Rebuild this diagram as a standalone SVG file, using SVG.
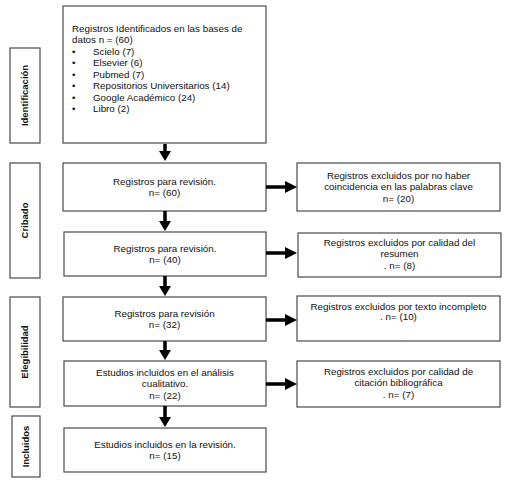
<svg xmlns="http://www.w3.org/2000/svg" width="527" height="481" viewBox="0 0 527 481">
<defs>
<style>
.box{fill:#fff;stroke:#4a4a4a;stroke-width:1.2}
.t{font-family:"Liberation Sans",Arial,sans-serif;font-size:9.8px;fill:#111}
.c{text-anchor:middle}
.lab{font-family:"Liberation Sans",Arial,sans-serif;font-size:9.5px;font-weight:bold;fill:#111;text-anchor:middle}
.sh{stroke:#000;stroke-width:3.5;fill:none}
.hd{fill:#000}
</style>
</defs>
<rect width="527" height="481" fill="#fff"/>
<g id="lab-identificacion"><rect class="box" x="10" y="48" width="30" height="95"/><text class="lab" transform="translate(28,95.5) rotate(-90)">Identificación</text></g>
<g id="lab-cribado"><rect class="box" x="10" y="163" width="30" height="115"/><text class="lab" transform="translate(28,220.5) rotate(-90)">Cribado</text></g>
<g id="lab-elegibilidad"><rect class="box" x="10" y="297" width="30" height="110"/><text class="lab" transform="translate(28,352) rotate(-90)">Elegibilidad</text></g>
<g id="lab-incluidos"><rect class="box" x="12" y="416" width="28" height="61"/><text class="lab" transform="translate(29,446.5) rotate(-90)">Incluidos</text></g>
<g id="n-identificados"><rect class="box" x="63" y="6" width="203" height="137"/>
<text class="t" x="72" y="31.5">Registros Identificados en las bases de</text>
<text class="t" x="72" y="43">datos n = (60)</text>
<text class="t" x="72" y="54.5">•</text><text class="t" x="93" y="54.5">Scielo (7)</text>
<text class="t" x="72" y="66">•</text><text class="t" x="93" y="66">Elsevier (6)</text>
<text class="t" x="72" y="77.5">•</text><text class="t" x="93" y="77.5">Pubmed (7)</text>
<text class="t" x="72" y="89">•</text><text class="t" x="93" y="89">Repositorios Universitarios (14)</text>
<text class="t" x="72" y="100.5">•</text><text class="t" x="93" y="100.5">Google Académico (24)</text>
<text class="t" x="72" y="112">•</text><text class="t" x="93" y="112">Libro (2)</text>
</g>
<g id="n-rev60"><rect class="box" x="63" y="163" width="203" height="48"/>
<text class="t c" x="164.5" y="185">Registros para revisión.</text><text class="t c" x="164.5" y="196">n= (60)</text></g>
<g id="n-rev40"><rect class="box" x="64" y="232" width="202" height="44"/>
<text class="t c" x="165" y="252">Registros para revisión.</text><text class="t c" x="165" y="263">n= (40)</text></g>
<g id="n-rev32"><rect class="box" x="63" y="297" width="203" height="44"/>
<text class="t c" x="164.5" y="317">Registros para revisión</text><text class="t c" x="164.5" y="328">n= (32)</text></g>
<g id="n-est22"><rect class="box" x="64" y="361" width="202" height="45"/>
<text class="t c" x="165" y="376">Estudios incluidos en el análisis</text><text class="t c" x="165" y="387">cualitativo.</text><text class="t c" x="165" y="399">n= (22)</text></g>
<g id="n-est15"><rect class="box" x="64" y="428" width="202" height="44"/>
<text class="t c" x="165" y="448">Estudios incluidos en la revisión.</text><text class="t c" x="165" y="459">n= (15)</text></g>
<g id="x-20"><rect class="box" x="297" y="163" width="203" height="48"/>
<text class="t c" x="398.5" y="179">Registros excluidos por no haber</text><text class="t c" x="398.5" y="190">coincidencia en las palabras clave</text><text class="t c" x="398.5" y="202">n= (20)</text></g>
<g id="x-8"><rect class="box" x="298" y="233" width="203" height="44"/>
<text class="t c" x="399.5" y="246">Registros excluidos por calidad del</text><text class="t c" x="399.5" y="257">resumen</text><text class="t c" x="399.5" y="269">. n= (8)</text></g>
<g id="x-10"><rect class="box" x="297" y="296" width="203" height="45"/>
<text class="t c" x="398.5" y="310">Registros excluidos por texto incompleto</text><text class="t c" x="398.5" y="320">. n= (10)</text><text class="t c" x="405" y="339" style="font-size:6px;fill:#aaa">. .</text></g>
<g id="x-7"><rect class="box" x="297" y="361" width="203" height="46"/>
<text class="t c" x="398.5" y="375">Registros excluidos por calidad de</text><text class="t c" x="398.5" y="386">citación bibliográfica</text><text class="t c" x="398.5" y="398">. n= (7)</text></g>
<g id="connectors">
<path class="sh" d="M165 144V152"/><path class="hd" d="M159 151H171L165 161Z"/>
<path class="sh" d="M165 211V222"/><path class="hd" d="M159 221H171L165 231Z"/>
<path class="sh" d="M165 276V287"/><path class="hd" d="M159 286H171L165 296Z"/>
<path class="sh" d="M165 341V351"/><path class="hd" d="M159 350H171L165 360Z"/>
<path class="sh" d="M165 406V418"/><path class="hd" d="M159 417H171L165 427Z"/>
<path class="sh" d="M266 187H287"/><path class="hd" d="M285 181V193L297 187Z"/>
<path class="sh" d="M266 253H287"/><path class="hd" d="M285 247V259L297 253Z"/>
<path class="sh" d="M266 320H287"/><path class="hd" d="M285 314V326L297 320Z"/>
<path class="sh" d="M266 384H287"/><path class="hd" d="M285 378V390L297 384Z"/>
</g>
</svg>
